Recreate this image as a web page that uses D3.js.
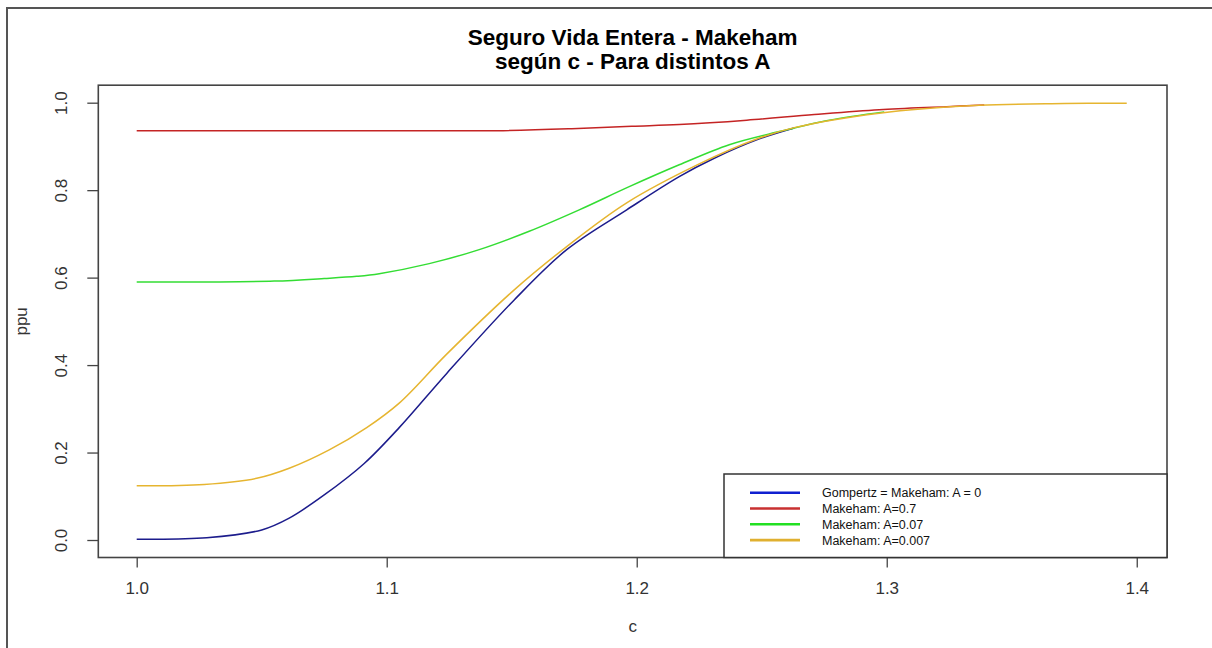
<!DOCTYPE html>
<html>
<head>
<meta charset="utf-8">
<script src="https://cdn.jsdelivr.net/npm/d3@7"></script>
<style>
	body { margin: 0; background: #fff; }
	svg { display: block; font-family: 'Liberation Sans', Arial, sans-serif; }
</style>
</head>
<body>
<svg id="scene" width="1212" height="648"></svg>
<script>
// Values (c, ppu)
const gompertzC = [1.000, 1.028, 1.050, 1.061, 1.075, 1.091, 1.105, 1.124, 1.151, 1.172, 1.196, 1.217, 1.231, 1.248, 1.263];
const gompertzV = [0.002, 0.005, 0.023, 0.050, 0.103, 0.175, 0.257, 0.381, 0.549, 0.664, 0.755, 0.831, 0.873, 0.915, 0.942];

const makeham07C = [1.000, 1.100, 1.144, 1.174, 1.198, 1.217, 1.244, 1.271, 1.297, 1.324, 1.339];
const makeham07V = [0.936, 0.936, 0.936, 0.9405, 0.946, 0.950, 0.960, 0.973, 0.984, 0.991, 0.995];

const makeham007C = [1.000, 1.030, 1.055, 1.075, 1.088, 1.097, 1.117, 1.137, 1.157, 1.177, 1.197, 1.217, 1.237, 1.257, 1.277, 1.299];
const makeham007V = [0.590, 0.590, 0.592, 0.598, 0.603, 0.609, 0.632, 0.664, 0.706, 0.755, 0.808, 0.858, 0.904, 0.934, 0.960, 0.979];

const makeham0007C = [1.000, 1.027, 1.048, 1.061, 1.077, 1.092, 1.105, 1.124, 1.151, 1.172, 1.196, 1.225, 1.248, 1.263, 1.297, 1.337, 1.371, 1.396];
const makeham0007V = [0.124, 0.127, 0.141, 0.164, 0.206, 0.257, 0.313, 0.425, 0.572, 0.671, 0.771, 0.860, 0.917, 0.943, 0.976, 0.994, 0.998, 0.999];

const seriesNames = ['Gompertz = Makeham: A = 0', 'Makeham: A=0.7', 'Makeham: A=0.07', 'Makeham: A=0.007'];
const xTicks = [1.0, 1.1, 1.2, 1.3, 1.4];
const yTicks = [0.0, 0.2, 0.4, 0.6, 0.8, 1.0];
const titleLines = ['Seguro Vida Entera - Makeham', 'según c - Para distintos A'];

const lineColors = ['#1c1c8c', '#c42424', '#33dd33', '#e6b530'];
const keyColors = ['#1020d0', '#c83030', '#22e022', '#e0b030'];

const series = [
	[gompertzC, gompertzV],
	[makeham07C, makeham07V],
	[makeham007C, makeham007V],
	[makeham0007C, makeham0007V],
].map(([cs, vs], i) => ({
	name: seriesNames[i],
	color: lineColors[i],
	key: keyColors[i],
	points: cs.map((c, j) => [c, vs[j]]),
}));

const box = { left: 98.3, right: 1167, top: 85.2, bottom: 557.5 };
const x = d3.scaleLinear().domain([0.98464, 1.4121]).range([box.left, box.right]);
const y = d3.scaleLinear().domain([-0.04, 1.04]).range([box.bottom, box.top]);

const svg = d3.select('svg#scene');

// Outer frame of the device
svg.append('path').attr('d', 'M7,648V8H1212')
	.attr('fill', 'none').attr('stroke', '#555').attr('stroke-width', 2);

// Curves
const line = d3.line().x(d => x(d[0])).y(d => y(d[1])).curve(d3.curveCatmullRom.alpha(0.5));
svg.append('g').selectAll('path')
	.data(series).enter().append('path')
	.attr('d', d => line(d.points))
	.attr('fill', 'none').attr('stroke', d => d.color).attr('stroke-width', 1.5);

// Axes
const gx = svg.append('g').attr('transform', `translate(0,${box.bottom})`)
	.call(d3.axisBottom(x).tickValues(xTicks).tickFormat(d3.format('.1f')).tickSize(10));
gx.select('.domain').remove();
gx.selectAll('.tick line').attr('stroke', '#444').attr('stroke-width', 1.3);
gx.selectAll('.tick text').attr('y', 36.5).attr('dy', null)
	.attr('font-size', 17).attr('fill', '#333').attr('font-family', null);

const gy = svg.append('g').attr('transform', `translate(${box.left},0)`)
	.call(d3.axisLeft(y).tickValues(yTicks).tickFormat(d3.format('.1f')).tickSize(11));
gy.select('.domain').remove();
gy.selectAll('.tick line').attr('stroke', '#444').attr('stroke-width', 1.3);
gy.selectAll('.tick text').attr('x', null).attr('dy', null).attr('y', null)
	.attr('transform', 'translate(-31.6,0) rotate(-90)')
	.attr('text-anchor', 'middle')
	.attr('font-size', 17).attr('fill', '#333').attr('font-family', null);

// Plot box
svg.append('rect')
	.attr('x', box.left).attr('y', box.top)
	.attr('width', box.right - box.left).attr('height', box.bottom - box.top)
	.attr('fill', 'none').attr('stroke', '#444').attr('stroke-width', 1.6);

// Axis labels
svg.append('text').attr('x', (box.left + box.right) / 2).attr('y', 632)
	.attr('text-anchor', 'middle').attr('font-size', 17).attr('fill', '#333').text('c');
svg.append('text').attr('transform', `translate(27,${(box.top + box.bottom) / 2}) rotate(-90)`)
	.attr('text-anchor', 'middle').attr('font-size', 17).attr('fill', '#333').text('ppu');

// Title
svg.append('g').selectAll('text')
	.data(titleLines).enter().append('text')
	.attr('x', (box.left + box.right) / 2).attr('y', (d, i) => 45 + i * 24)
	.attr('text-anchor', 'middle').attr('font-size', 22.5).attr('font-weight', 'bold')
	.attr('fill', '#000').text(d => d);

// Legend
const legend = svg.append('g');
legend.append('rect')
	.attr('x', 724).attr('y', 474).attr('width', box.right - 724).attr('height', box.bottom - 474)
	.attr('fill', '#fff').attr('stroke', '#333').attr('stroke-width', 1.5);
const rows = legend.selectAll('g.row')
	.data(series).enter().append('g').classed('row', true)
	.attr('transform', (d, i) => `translate(0,${492.7 + i * 15.8})`);
rows.append('line').attr('x1', 750).attr('x2', 800)
	.attr('stroke', d => d.key).attr('stroke-width', 2.6);
rows.append('text').attr('x', 822).attr('y', 4.5)
	.attr('font-size', 12.5).attr('fill', '#111').text(d => d.name);
</script>
</body>
</html>
